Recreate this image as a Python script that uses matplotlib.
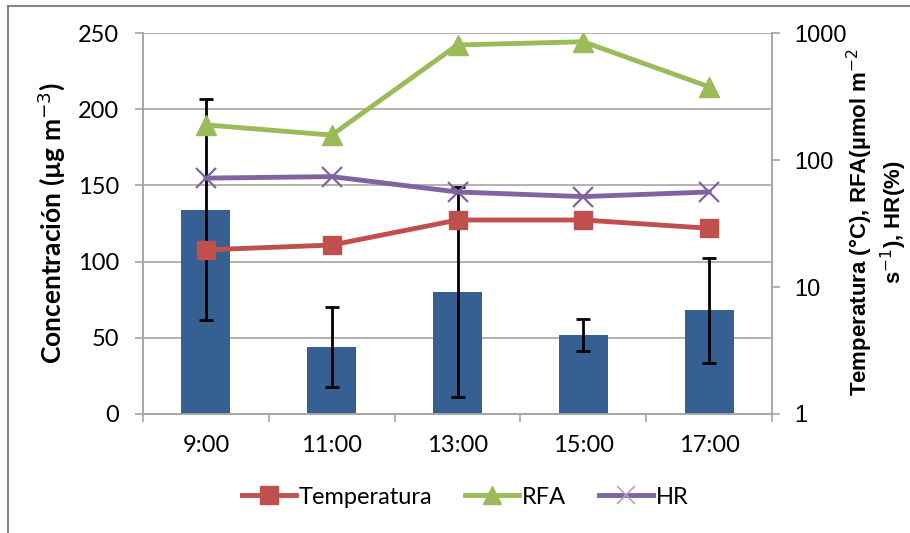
import matplotlib
matplotlib.use("Agg")
import matplotlib.pyplot as plt
from matplotlib.patches import Rectangle
from matplotlib.lines import Line2D
import numpy as np

hours = ["9:00", "11:00", "13:00", "15:00", "17:00"]
concentracion = [134, 44, 80, 52, 68]
conc_err = [72.5, 26.5, 69, 10.5, 34.5]
temperatura = [19.6, 21.4, 33.7, 33.7, 29.0]
rfa = [189, 157, 805, 853, 377]
hr = [72, 74, 56, 51.5, 56]

BAR = "#376092"
RED = "#C0504D"
GREEN = "#9BBB59"
PURPLE = "#8064A2"
GRID = "#A6A6A6"

LEFT_FONT = "Lato"
RIGHT_FONT = "Liberation Sans"

fig = plt.figure(figsize=(9.10, 5.33), dpi=100)
ax = fig.add_axes([143/910, 1-414/533, (772-143)/910, (414-33)/533])
x = np.arange(len(hours))

ax.bar(x, concentracion, width=0.39, color=BAR, zorder=2)
ax.errorbar(x, concentracion, yerr=conc_err, fmt="none", ecolor="black",
            elinewidth=2, capsize=5, capthick=2, zorder=3)
ax.set_xlim(-0.5, len(hours) - 0.5)
ax.set_ylim(0, 250)
ax.set_yticks([0, 50, 100, 150, 200, 250])
ax.yaxis.grid(True, color=GRID, linewidth=1.2, zorder=0)
ax.set_axisbelow(True)
for s in ["left", "right", "bottom", "top"]:
    ax.spines[s].set_color(GRID)
    ax.spines[s].set_linewidth(1.2)
ax.spines["top"].set_visible(False)
ax.set_xticks(x)
ax.set_xticklabels(hours, fontsize=17, family=LEFT_FONT)
ax.set_xticks(np.arange(-0.5, len(hours)), minor=True)
ax.tick_params(axis="x", which="major", length=0, pad=15)
ax.tick_params(axis="x", which="minor", length=6, color=GRID, width=1.2)
ax.tick_params(axis="y", length=6, color=GRID, width=1.2, pad=11, labelsize=17)
for lab in ax.get_yticklabels():
    lab.set_family(LEFT_FONT)
ax.set_ylabel("Concentración (µg m$^{-3}$)", fontsize=19, fontweight="bold",
              family=LEFT_FONT, labelpad=8)

ax2 = ax.twinx()
ax2.set_yscale("log")
ax2.set_ylim(1, 1000)
ax2.set_yticks([1, 10, 100, 1000])
ax2.set_yticklabels(["1", "10", "100", "1000"], fontsize=17, family=RIGHT_FONT)
ax2.yaxis.set_minor_locator(matplotlib.ticker.NullLocator())
ax2.tick_params(axis="y", length=6, color=GRID, width=1.2, pad=10)
for s in ["left", "right", "bottom", "top"]:
    ax2.spines[s].set_color(GRID)
    ax2.spines[s].set_linewidth(1.2)
ax2.spines["top"].set_visible(False)

ax2.plot(x, temperatura, color=RED, linewidth=3.5, marker="s", markersize=13,
         markerfacecolor=RED, markeredgecolor=RED, label="Temperatura", zorder=4)
ax2.plot(x, rfa, color=GREEN, linewidth=3.5, marker="^", markersize=15,
         markerfacecolor=GREEN, markeredgecolor=GREEN, label="RFA", zorder=4)
ax2.plot(x, hr, color=PURPLE, linewidth=3.5, marker="x", markersize=14,
         markeredgewidth=1.6, markeredgecolor=PURPLE, label="HR", zorder=4)

fig.text(877/910, 1-222/533,
         "Temperatura (°C), RFA(µmol m$^{-2}$\ns$^{-1}$), HR(%)",
         rotation=90, ha="center", va="center", multialignment="center",
         fontsize=16, fontweight="bold", family=RIGHT_FONT, linespacing=1.15)

handles = [
    Line2D([], [], color=RED, linewidth=3.5, marker="s", markersize=13),
    Line2D([], [], color=GREEN, linewidth=3.5, marker="^", markersize=13),
    Line2D([], [], color=PURPLE, linewidth=3.5, marker="x", markersize=13,
           markeredgewidth=1.2, markeredgecolor="#B3A2C7"),
]
leg = fig.legend(handles, ["Temperatura", "RFA", "HR"], loc="center",
                 bbox_to_anchor=(465/910, 1-497/533), ncol=3, frameon=False,
                 prop={"family": LEFT_FONT, "size": 17}, handlelength=2.3,
                 handletextpad=0.1, columnspacing=1.4)

fig.patches.append(Rectangle((8/910, -0.05), 1.2, 1.05 - 6/533,
                             transform=fig.transFigure, fill=False,
                             edgecolor="#868686", linewidth=1.5))

fig.savefig("out.png", dpi=100)
